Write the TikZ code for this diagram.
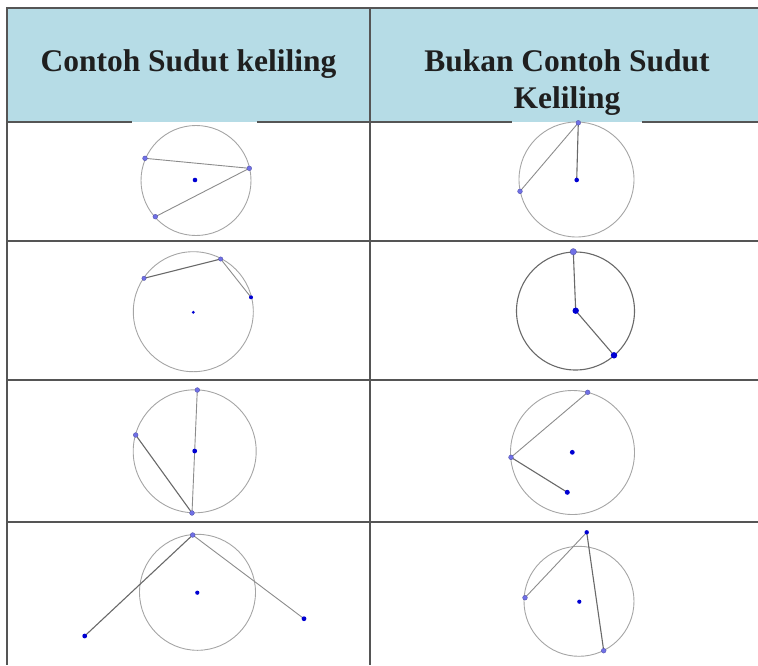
\documentclass[tikz,border=0pt]{standalone}
\usepackage{fontspec}
\setmainfont{Liberation Serif}
\definecolor{headblue}{RGB}{182,220,230}
\definecolor{gridgray}{RGB}{85,85,85}
\definecolor{circgray}{RGB}{165,165,165}
\definecolor{seggray}{RGB}{140,140,140}
\definecolor{segdark}{RGB}{105,105,105}
\definecolor{ptlight}{RGB}{112,112,230}
\definecolor{ptdark}{RGB}{0,0,210}
\tikzset{
  grid/.style={draw=gridgray, line width=1.6pt},
  circ/.style={draw=circgray, line width=0.9pt},
  circdark/.style={draw=segdark, line width=1.1pt},
  seg/.style={draw=seggray, line width=0.9pt},
  segd/.style={draw=segdark, line width=1.1pt},
  lpt/.style={fill=ptlight, draw=ptlight!70!black, line width=0.3pt},
  dpt/.style={fill=ptdark},
  head/.style={font=\fontsize{31.5}{37}\selectfont\bfseries, text=black!88, anchor=base, align=center, inner sep=0pt}
}
\begin{document}
\begin{tikzpicture}[x=1pt,y=-1pt]
\useasboundingbox (0,0) rectangle (758,665);
% header
\fill[headblue] (7,8) rectangle (758,122);
\node[head] (h1) at (188.5,71) {Contoh Sudut keliling};
\node[head] (h2) at (567,71) {Bukan Contoh Sudut};
\node[head] (h3) at (567,108) {Keliling};
% grid
\draw[grid] (758,8) -- (7,8) -- (7,665);
\draw[grid] (370,8) -- (370,665);
\draw[grid] (7,122) -- (132,122);
\draw[grid] (257,122) -- (512,122);
\draw[grid] (642,122) -- (758,122);
\draw[grid] (7,241) -- (758,241);
\draw[grid] (7,380) -- (758,380);
\draw[grid] (7,522) -- (758,522);

% ---- row 1, col 1
\draw[circ] (196,180.5) circle (55);
\coordinate (a1) at (145,158.3);
\coordinate (a2) at (249.3,168.3);
\coordinate (a3) at (155.3,216.7);
\draw[seg] (a1) -- (a2) -- (a3);
\fill[lpt] (a1) circle (2.4); \fill[lpt] (a2) circle (2.4); \fill[lpt] (a3) circle (2.4);
\fill[dpt] (195,180) circle (2.3);

% ---- row 1, col 2
\draw[circ] (576.5,179.5) circle (57.5);
\coordinate (b0) at (576.7,180);
\coordinate (b1) at (578.3,122.8);
\coordinate (b2) at (520,191.3);
\draw[segd] (b0) -- (b1);
\draw[seg] (b1) -- (b2);
\fill[lpt] (b1) circle (2.4); \fill[lpt] (b2) circle (2.4);
\fill[dpt] (b0) circle (2.3);

% ---- row 2, col 1
\draw[circ] (193.3,311.7) circle (60);
\coordinate (c1) at (144,278.3);
\coordinate (c2) at (220.7,259);
\coordinate (c3) at (251,297.3);
\draw[segd] (c1) -- (c2);
\draw[seg] (c2) -- (c3);
\fill[lpt] (c1) circle (2.2); \fill[lpt] (c2) circle (2.2);
\fill[dpt] (c3) circle (2);
\fill[dpt] (193.3,312.3) circle (1.6);

% ---- row 2, col 2
\draw[circdark] (575.5,311) circle (59);
\coordinate (d0) at (575.7,310.7);
\coordinate (d1) at (573.3,251.7);
\coordinate (d2) at (614,355.3);
\draw[segd] (d1) -- (d0) -- (d2);
\fill[lpt] (d1) circle (3.2);
\fill[dpt] (d0) circle (3.2);
\fill[dpt] (d2) circle (3.2);

% ---- row 3, col 1
\draw[circ] (194.7,451.3) circle (61.5);
\coordinate (e1) at (197.3,390);
\coordinate (e2) at (135.7,435);
\coordinate (e3) at (192,513);
\draw[seg] (e1) -- (e3);
\draw[segd] (e2) -- (e3);
\fill[lpt] (e1) circle (2.4); \fill[lpt] (e2) circle (2.4); \fill[lpt] (e3) circle (2.4);
\fill[dpt] (194.7,451) circle (2.4);

% ---- row 3, col 2
\draw[circ] (572.5,452.5) circle (62);
\coordinate (f1) at (587.7,392.3);
\coordinate (f2) at (511,457.3);
\coordinate (f3) at (567.3,492.3);
\draw[seg] (f2) -- (f1);
\draw[segd] (f2) -- (f3);
\fill[lpt] (f1) circle (2.4); \fill[lpt] (f2) circle (2.4);
\fill[dpt] (f3) circle (2.5);
\fill[dpt] (572.3,452.3) circle (2.4);

% ---- row 4, col 1
\draw[circ] (197.5,592.3) circle (58);
\coordinate (g1) at (192.7,535);
\coordinate (g2) at (84.7,636);
\coordinate (g3) at (304,618.7);
\draw[segd] (g1) -- (g2);
\draw[seg] (g1) -- (g3);
\fill[lpt] (g1) circle (2.4);
\fill[dpt] (g2) circle (2.4); \fill[dpt] (g3) circle (2.4);
\fill[dpt] (197.3,592.7) circle (2.1);

% ---- row 4, col 2
\draw[circ] (579,601.3) circle (55);
\coordinate (k1) at (586.7,532.3);
\coordinate (k2) at (525,597.7);
\coordinate (k3) at (603.7,650.7);
\draw[seg] (k1) -- (k2);
\draw[segd] (k1) -- (k3);
\fill[dpt] (k1) circle (2.2);
\fill[lpt] (k2) circle (2.4); \fill[lpt] (k3) circle (2.4);
\fill[dpt] (579.3,601.7) circle (2.1);
\end{tikzpicture}
\end{document}
